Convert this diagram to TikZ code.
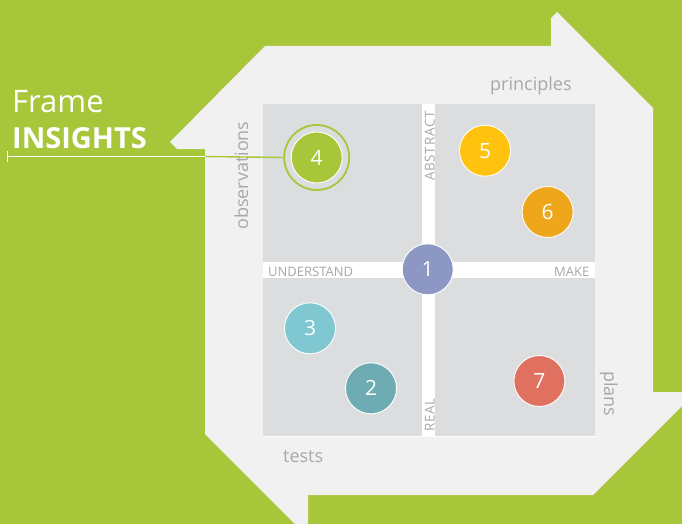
\documentclass[tikz,border=0pt]{standalone}
\usepackage{fontspec}
\setsansfont{Open Sans}
\usetikzlibrary{positioning}
\definecolor{fmgreen}{HTML}{A8C63A}
\definecolor{fmpanel}{HTML}{F1F1F1}
\definecolor{fmquad}{HTML}{DCDDDE}
\definecolor{fmtext}{HTML}{A6A8AB}
\definecolor{fmblue}{HTML}{8C98C3}
\definecolor{fmyellow}{HTML}{FFC20E}
\definecolor{fmorange}{HTML}{EEA61A}
\definecolor{fmcyan}{HTML}{7FC8D2}
\definecolor{fmteal}{HTML}{6FABB3}
\definecolor{fmred}{HTML}{E07060}
\newcommand{\fmsize}[1]{\fontsize{#1}{#1}\selectfont\sffamily}

\begin{document}
\begin{tikzpicture}[
  x=1pt, y=-1pt,
  font=\sffamily,
  line cap=butt, line join=miter,
  dot/.style={circle, draw=white, line width=0.9pt, minimum size=51pt,
              inner sep=0pt, text=white, font=\fmsize{21}},
  side/.style={text=fmtext, font=\fmsize{18}, inner sep=0pt},
  axis/.style={text=fmtext, font=\fmsize{13}, inner sep=0pt},
  vaxis/.style={text=fmtext, font=\fmsize{13.5}\addfontfeatures{LetterSpace=5},
                inner sep=0pt, rotate=90, anchor=base west},
]
\clip (0,0) rectangle (682,524);
\fill[fmgreen] (0,0) rectangle (682,524);

% ----- panel with the two arrow tips -----
\fill[fmpanel] (265,46) -- (551,46) -- (551,18) -- (557,12) -- (653,108)
  -- (653,392) -- (682,392) -- (689,399) -- (593,495) -- (308,495)
  -- (308,523) -- (301,530) -- (205,434) -- (205,149) -- (177,149)
  -- (170,142) -- cycle;

% ----- quadrants -----
\fill[fmquad] (263,104) rectangle (595,436);
\fill[white] (422,104) rectangle (435,436);
\fill[white] (263,262) rectangle (595,278);
\draw[white, line width=0.8pt] (263,436.5) -- (595,436.5);

\node[axis, anchor=base west] (understand) at (268,276) {UNDERSTAND};
\node[axis, anchor=base east] (make) at (589.5,276) {MAKE};
\node[vaxis] (abstract) at (434.5,181) {ABSTRACT};
\node[vaxis] (real) at (434.5,432) {REAL};

\node[side, anchor=base west] (principles) at (490,90.5) {principles};
\node[side, anchor=base west, rotate=90] (observations) at (248,230) {observations};
\node[side, anchor=base west] (tests) at (283,462.5) {tests};
\node[side, anchor=base west, rotate=-90] (plans) at (604,371) {plans};

% ----- steps -----
\node[dot, fill=fmblue] (s1) at (427.7,269.3) {1};
\node[dot, fill=fmteal] (s2) at (371,388.3) {2};
\node[dot, fill=fmcyan] (s3) at (310,328.3) {3};
\node[dot, fill=fmgreen] (s4) at (316.7,157.5) {4};
\node[dot, fill=fmyellow] (s5) at (485,150.7) {5};
\node[dot, fill=fmorange] (s6) at (547.6,212) {6};
\node[dot, fill=fmred] (s7) at (539.4,381) {7};
\node[circle, draw=fmgreen, line width=1.8pt, minimum size=65pt,
      inner sep=0pt] (ring) at (s4.center) {};

% ----- frame insights -----
\node[text=white, font=\fmsize{31}, anchor=base west, inner sep=0pt]
  (frame) at (12,113) {Frame};
\node[text=white, font=\fmsize{29}\bfseries, anchor=base west, inner sep=0pt]
  (insights) at (12,148) {INSIGHTS};
\coordinate (tick) at (7.5,156.5);
\coordinate (edge) at (205,156.5);
\draw[white, line width=1.4pt] (tick) -- (edge);
\draw[white, line width=1.2pt] ([yshift=-5.5pt]tick) -- ([yshift=5.5pt]tick);
\draw[fmgreen, line width=1.4pt] (edge) -- (ring.west);
\end{tikzpicture}
\end{document}
